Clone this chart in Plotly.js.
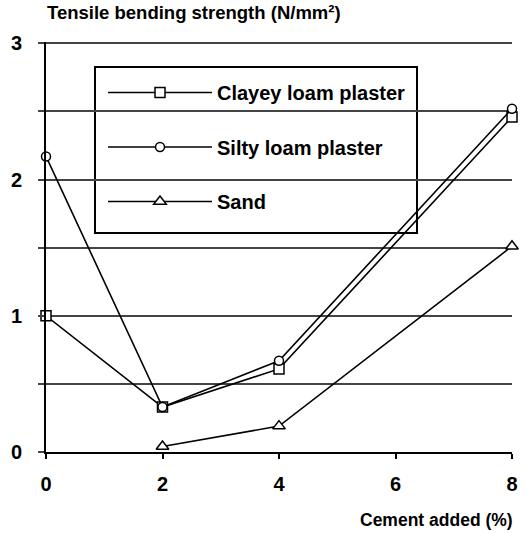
<!DOCTYPE html>
<html>
<head>
<meta charset="utf-8">
<script src="https://cdn.plot.ly/plotly-3.0.1.min.js"></script>
<style>html,body{margin:0;padding:0;background:#fff;}#chart{width:527px;height:533px;}</style>
</head>
<body>
<div id="chart"></div>
<script>
// Data
const cementX = [0, 2, 4, 8];
const sandX = [2, 4, 8];
const clayeyLoam = [1.0, 0.33, 0.61, 2.46];
const siltyLoam = [2.17, 0.33, 0.67, 2.52];
const sand = [0.04, 0.19, 1.51];
const seriesNames = ["Clayey loam plaster", "Silty loam plaster", "Sand"];
const yTickVals = [0, 0.5, 1, 1.5, 2, 2.5, 3];
const yTickText = ["0", "", "1", "", "2", "", "3"];
const xTickVals = [0, 2, 4, 6, 8];

const FONT = "Liberation Sans, Arial, sans-serif";
const lineStyle = {color: "#000", width: 1.6};

const traces = [
  {x: cementX, y: clayeyLoam, name: seriesNames[0], mode: "lines+markers", legendgroup: "a",
   line: lineStyle, marker: {symbol: "square", size: 10, color: "#fff", line: {color: "#000", width: 1.5}}, cliponaxis: false},
  {x: cementX, y: siltyLoam, name: seriesNames[1], mode: "lines+markers", legendgroup: "b",
   line: lineStyle, marker: {symbol: "circle", size: 9, color: "#fff", line: {color: "#000", width: 1.5}}, cliponaxis: false},
  {x: sandX, y: sand, name: seriesNames[2], mode: "lines+markers", legendgroup: "c",
   line: lineStyle, marker: {symbol: "triangle-up", size: 11, color: "#fff", line: {color: "#000", width: 1.5}}, cliponaxis: false}
];

const plotTop = 42, plotBottom = 452, plotLeft = 46, plotRight = 512;
const ph = plotBottom - plotTop, pw = plotRight - plotLeft;
const px2x = p => (p - plotLeft) / pw;
const py2y = p => (plotBottom - p) / ph;

const layout = {
  width: 527, height: 533,
  margin: {l: plotLeft, r: 527 - plotRight, t: plotTop, b: 533 - plotBottom},
  paper_bgcolor: "#fff", plot_bgcolor: "#fff",
  font: {family: FONT, color: "#000"},
  title: {text: "<b>Tensile bending strength (N/mm²)</b>", font: {family: FONT, size: 18.5, color: "#000"},
          x: 47/527, xanchor: "left", xref: "container", y: 1 - 13/533, yanchor: "middle", yref: "container"},
  xaxis: {range: [0, 8], tickvals: xTickVals, ticks: "outside", ticklen: 5, tickwidth: 2, tickcolor: "#000",
          showline: true, linecolor: "#000", linewidth: 2, showgrid: false, zeroline: false,
          tickfont: {family: FONT, size: 20, color: "#000", weight: "bold"}, ticklabelstandoff: 8, fixedrange: true},
  yaxis: {range: [0, 3.01], tickvals: yTickVals, ticktext: yTickText, ticks: "outside", ticklen: 6, tickwidth: 2, tickcolor: "#444",
          showline: true, linecolor: "#000", linewidth: 2, showgrid: true, gridcolor: "#444", gridwidth: 2, zeroline: false,
          tickfont: {family: FONT, size: 20, color: "#000", weight: "bold"}, ticklabelstandoff: 12, fixedrange: true},
  showlegend: true,
  legend: {x: px2x(103), xanchor: "left", y: py2y(73), yanchor: "top", bgcolor: "rgba(0,0,0,0)", borderwidth: 0,
           font: {family: FONT, size: 20, color: "#000", weight: "bold"}, traceorder: "grouped", tracegroupgap: 25.5, itemwidth: 104},
  shapes: [
    {type: "rect", xref: "paper", yref: "paper", x0: px2x(95), x1: px2x(417), y0: py2y(233), y1: py2y(67),
     fillcolor: "#fff", line: {color: "#000", width: 2}, layer: "between"}
  ],
  annotations: [
    {text: "<b>Cement added (%)</b>", xref: "paper", yref: "paper", x: 1, xshift: 3, y: py2y(520),
     xanchor: "right", yanchor: "middle", showarrow: false, font: {family: FONT, size: 17.5, color: "#000"}}
  ]
};

Plotly.newPlot("chart", traces, layout, {displayModeBar: false, staticPlot: true});
</script>
</body>
</html>
